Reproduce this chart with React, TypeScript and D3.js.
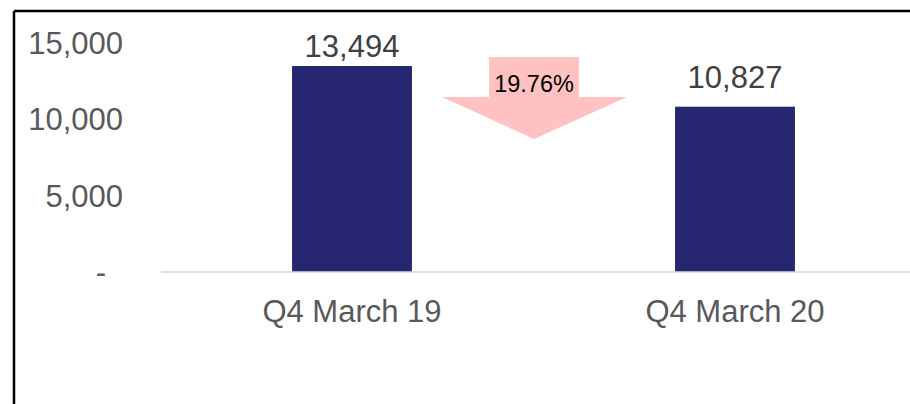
import React from "react";
import * as d3 from "d3";

const categories = ["Q4 March 19", "Q4 March 20"];
const values = [13494, 10827];
const yTicks = [0, 5000, 10000, 15000];

const W = 910;
const H = 404;
const baseY = 272;
const font = "'Liberation Sans', Arial, sans-serif";

const App = () => {
  const x = d3
    .scaleBand<string>()
    .domain(categories)
    .range([160.5, 926.5])
    .paddingInner(0.687)
    .paddingOuter(0.687 / 2);
  const y = d3.scaleLinear().domain([0, 15000]).range([baseY, 43]);
  const fmt = d3.format(",");
  // Excel moved the first label a bit closer to its bar
  const labelGap = [9, 19];
  const drop = (values[0] - values[1]) / values[0];

  return (
    <svg
      width={W}
      height={H}
      style={{ position: "absolute", left: 0, top: 0, background: "#fff" }}
    >
      {/* outer frame (only top and left edges visible) */}
      <line x1={14} y1={11} x2={W} y2={11} stroke="#000" strokeWidth={2.5} />
      <line x1={14} y1={11} x2={14} y2={H} stroke="#000" strokeWidth={2.5} />

      {/* y axis labels */}
      {yTicks.map((t) => (
        <text
          key={t}
          x={123}
          dx={t === 0 ? -17 : 0}
          y={y(t)}
          dy="0.35em"
          textAnchor="end"
          fontFamily={font}
          fontSize={31}
          fill="#595959"
        >
          {t === 0 ? "-" : fmt(t)}
        </text>
      ))}

      {/* bars */}
      {categories.map((c, i) => (
        <rect
          key={c}
          x={x(c)}
          y={y(values[i])}
          width={x.bandwidth()}
          height={baseY - y(values[i])}
          fill="#262671"
        />
      ))}

      {/* baseline */}
      <line x1={161} y1={baseY} x2={W} y2={baseY} stroke="#d9d9d9" strokeWidth={1.5} />

      {/* value labels */}
      {categories.map((c, i) => (
        <text
          key={c}
          x={(x(c) ?? 0) + x.bandwidth() / 2}
          y={y(values[i]) - labelGap[i]}
          textAnchor="middle"
          fontFamily={font}
          fontSize={31}
          fill="#404040"
        >
          {fmt(values[i])}
        </text>
      ))}

      {/* category labels */}
      {categories.map((c) => (
        <text
          key={c}
          x={(x(c) ?? 0) + x.bandwidth() / 2}
          y={322}
          textAnchor="middle"
          fontFamily={font}
          fontSize={31}
          fill="#595959"
        >
          {c}
        </text>
      ))}

      {/* down arrow with percentage drop */}
      <polygon
        points="489,57 579,57 579,97 627,97 534,139 442,97 489,97"
        fill="#ffc1c1"
      />
      <text
        x={534}
        y={92}
        textAnchor="middle"
        fontFamily={font}
        fontSize={23.5}
        fill="#000"
      >
        {(drop * 100).toFixed(2) + "%"}
      </text>
    </svg>
  );
};

export default App;
